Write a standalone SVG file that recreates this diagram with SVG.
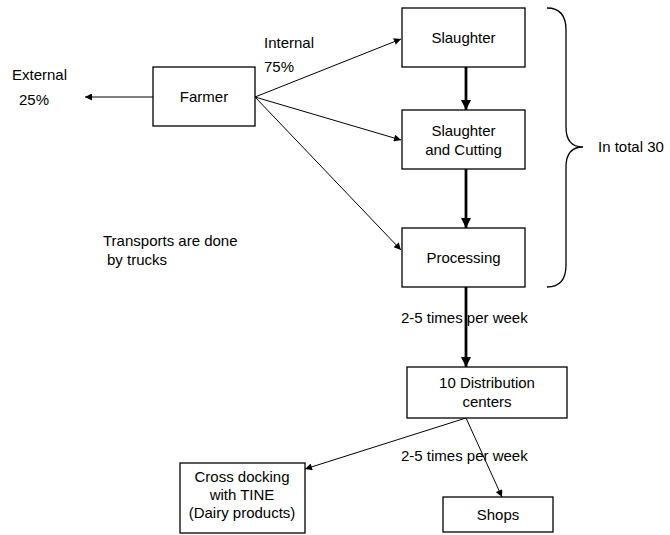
<svg xmlns="http://www.w3.org/2000/svg" width="670" height="535" viewBox="0 0 670 535">
  <style>
    text { font-family: "Liberation Sans", Arial, sans-serif; font-size: 15px; fill: #000; }
    .box { fill: #fff; stroke: #000; stroke-width: 1.3; }
    .mid { text-anchor: middle; }
    .thin { stroke: #000; stroke-width: 1; fill: none; marker-end: url(#arrowThin); }
    .bold { stroke: #000; stroke-width: 2.8; fill: none; marker-end: url(#arrowBold); }
  </style>
  <defs>
    <marker id="arrowThin" viewBox="0 0 10 10" refX="10" refY="5" markerWidth="9" markerHeight="7" orient="auto" markerUnits="userSpaceOnUse">
      <path d="M0,0 L10,5 L0,10 z" fill="#000"/>
    </marker>
    <marker id="arrowBold" viewBox="0 0 10 10" refX="10" refY="5" markerWidth="10" markerHeight="10" orient="auto" markerUnits="userSpaceOnUse">
      <path d="M0,0 L10,5 L0,10 z" fill="#000"/>
    </marker>
  </defs>

  <rect width="670" height="535" fill="#fff"/>

  <g id="connectors">
    <line class="thin" x1="153" y1="97" x2="85" y2="97"/>
    <line class="thin" x1="255" y1="97" x2="401" y2="39"/>
    <line class="thin" x1="255" y1="97" x2="401" y2="140"/>
    <line class="thin" x1="255" y1="97" x2="401" y2="250"/>
    <line class="bold" x1="466" y1="67" x2="466" y2="110"/>
    <line class="bold" x1="466" y1="169" x2="466" y2="228"/>
    <line class="bold" x1="466" y1="287" x2="466" y2="367"/>
    <line class="thin" x1="466" y1="418" x2="305" y2="469"/>
    <line class="thin" x1="466" y1="418" x2="502" y2="497"/>
  </g>

  <g id="farmer">
    <rect class="box" x="153" y="67" width="102" height="59"/>
    <text class="mid" x="204" y="102">Farmer</text>
  </g>

  <g id="slaughter">
    <rect class="box" x="402" y="8" width="123" height="59"/>
    <text class="mid" x="463.5" y="43">Slaughter</text>
  </g>

  <g id="slaughter-cutting">
    <rect class="box" x="402" y="110" width="123" height="59"/>
    <text class="mid" x="463.5" y="136">Slaughter</text>
    <text class="mid" x="463.5" y="155">and Cutting</text>
  </g>

  <g id="processing">
    <rect class="box" x="402" y="228" width="123" height="59"/>
    <text class="mid" x="463.5" y="263">Processing</text>
  </g>

  <g id="distribution">
    <rect class="box" x="407" y="367" width="160" height="51"/>
    <text class="mid" x="487" y="388">10 Distribution</text>
    <text class="mid" x="487" y="407">centers</text>
  </g>

  <g id="cross-docking">
    <rect class="box" x="180" y="463" width="125" height="70"/>
    <text class="mid" x="242" y="482">Cross docking</text>
    <text class="mid" x="242" y="500">with TINE</text>
    <text class="mid" x="242" y="518">(Dairy products)</text>
  </g>

  <g id="shops">
    <rect class="box" x="443" y="497" width="110" height="35"/>
    <text class="mid" x="498" y="520">Shops</text>
  </g>

  <g id="brace">
    <path d="M547,8 Q566,8 566,30 L566,127 Q566,147 583,147 Q566,147 566,167 L566,265 Q566,287 547,287" fill="none" stroke="#000" stroke-width="1.3"/>
    <text x="598" y="152">In total 30</text>
  </g>

  <g id="labels">
    <text x="12" y="80">External</text>
    <text x="19" y="105">25%</text>
    <text x="264" y="48">Internal</text>
    <text x="264" y="72">75%</text>
    <text x="103" y="246">Transports are done</text>
    <text x="107" y="265">by trucks</text>
    <text x="401" y="323">2-5 times per week</text>
    <text x="401" y="461">2-5 times per week</text>
  </g>
</svg>
